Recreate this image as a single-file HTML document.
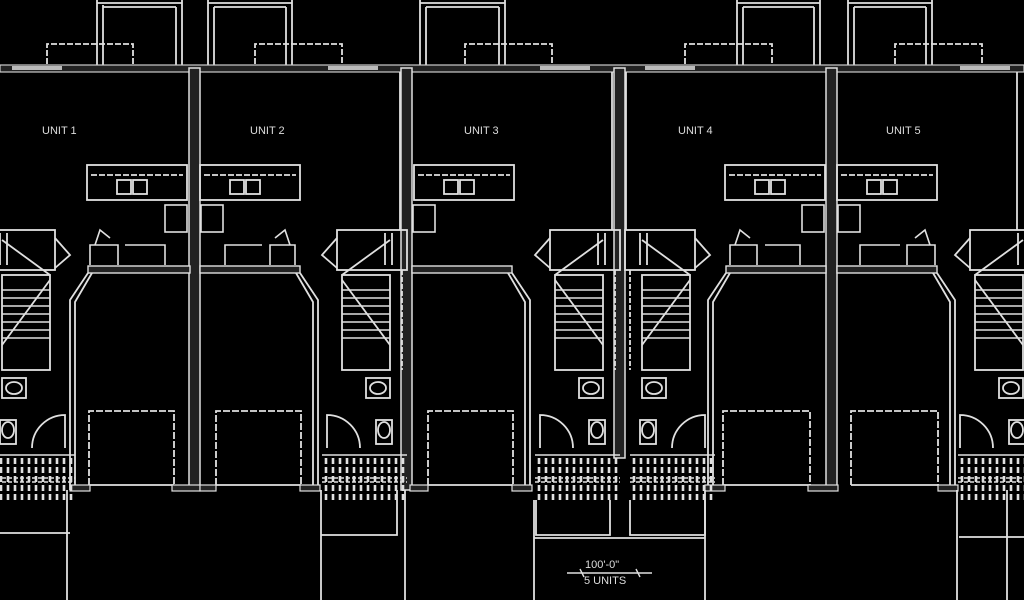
<!DOCTYPE html>
<html><head><meta charset="utf-8"><style>
html,body{margin:0;padding:0;background:#000;width:1024px;height:600px;overflow:hidden}
svg{display:block}
text{font-family:"Liberation Sans",sans-serif;fill:#ddd}
</style></head><body>
<svg width="1024" height="600" viewBox="0 0 1024 600" xmlns="http://www.w3.org/2000/svg">
<defs>
<g id="stair" fill="none" stroke="#e0e0e0" stroke-width="1.8">
  <rect x="5" y="230" width="70" height="40"/>
  <line x1="20" y1="233" x2="20" y2="265"/><line x1="27" y1="233" x2="27" y2="265"/>
  <path d="M75 238 L90 255 L75 268" />
  <line x1="10" y1="270" x2="10" y2="370" stroke-dasharray="5,2"/>
  <rect x="22" y="275" width="48" height="95"/>
  <g stroke-width="1.5">
  <line x1="22" y1="290" x2="70" y2="290"/><line x1="22" y1="298" x2="70" y2="298"/>
  <line x1="22" y1="306" x2="70" y2="306"/><line x1="22" y1="314" x2="70" y2="314"/>
  <line x1="22" y1="322" x2="70" y2="322"/><line x1="22" y1="330" x2="70" y2="330"/>
  <line x1="22" y1="338" x2="70" y2="338"/>
  </g>
  <line x1="22" y1="345" x2="70" y2="280"/>
  <line x1="22" y1="240" x2="70" y2="275"/>
  <rect x="22" y="378" width="24" height="20"/>
  <ellipse cx="34" cy="388" rx="8" ry="6"/>
  <rect x="20" y="420" width="16" height="24"/>
  <ellipse cx="28" cy="430" rx="6" ry="8"/>
  <path d="M85 448 V415 A33 33 0 0 0 52 448"/>
</g>
<g id="deck" fill="none" stroke="#e0e0e0" stroke-width="1.6">
  <line x1="0" y1="455" x2="85" y2="455"/>
  <line x1="0" y1="478" x2="85" y2="478" stroke-dasharray="4,2"/>
  <line x1="0" y1="482" x2="85" y2="482" stroke-dasharray="4,2"/>
  <g stroke-dasharray="6,3" stroke-width="2.6">
  <line x1="4" y1="458" x2="4" y2="500"/><line x1="11" y1="458" x2="11" y2="500"/>
  <line x1="18" y1="458" x2="18" y2="500"/><line x1="25" y1="458" x2="25" y2="500"/>
  <line x1="32" y1="458" x2="32" y2="500"/><line x1="39" y1="458" x2="39" y2="500"/>
  <line x1="46" y1="458" x2="46" y2="500"/><line x1="53" y1="458" x2="53" y2="500"/>
  <line x1="60" y1="458" x2="60" y2="500"/><line x1="67" y1="458" x2="67" y2="500"/>
  <line x1="74" y1="458" x2="74" y2="500"/><line x1="81" y1="458" x2="81" y2="500"/>
  </g>
</g>
<g id="kitchen" fill="none" stroke="#e0e0e0" stroke-width="1.8">
  <rect x="0" y="165" width="100" height="35"/>
  <line x1="4" y1="175" x2="96" y2="175" stroke-dasharray="6,2"/>
  <rect x="30" y="180" width="14" height="14"/><rect x="46" y="180" width="14" height="14"/>
</g>
</defs>

<g fill="none" stroke="#e0e0e0" stroke-width="1.8">
  <path d="M97 0 V66 M103 5 V66 M97 3 H182 M103 7 H176 M182 0 V66 M176 7 V66"/>
  <path d="M208 0 V66 M214 7 V66 M208 3 H292 M214 7 H286 M292 0 V66 M286 7 V66"/>
  <path d="M420 0 V66 M426 7 V66 M420 3 H505 M426 7 H499 M505 0 V66 M499 7 V66"/>
  <path d="M737 0 V66 M743 7 V66 M737 3 H820 M743 7 H814 M820 0 V66 M814 7 V66"/>
  <path d="M848 0 V66 M854 7 V66 M848 3 H932 M854 7 H926 M932 0 V66 M926 7 V66"/>
  <g stroke-dasharray="6,2">
    <path d="M47 64 V44 H133 V64"/><path d="M255 64 V44 H342 V64"/>
    <path d="M465 64 V44 H552 V64"/><path d="M685 64 V44 H772 V64"/>
    <path d="M895 64 V44 H982 V64"/>
  </g>
</g>
<rect x="0" y="65" width="1024" height="7" fill="#222" stroke="#ccc" stroke-width="1.2"/>
<g fill="#bbb"><rect x="12" y="66" width="50" height="4"/><rect x="328" y="66" width="50" height="4"/><rect x="540" y="66" width="50" height="4"/><rect x="645" y="66" width="50" height="4"/><rect x="960" y="66" width="50" height="4"/></g>

<g fill="#222" stroke="#e0e0e0" stroke-width="1.5">
  <rect x="189" y="68" width="11" height="422"/>
  <rect x="401" y="68" width="11" height="422"/>
  <rect x="614" y="68" width="11" height="390"/>
  <rect x="826" y="68" width="11" height="422"/>
</g>
<g fill="none" stroke="#e0e0e0" stroke-width="1.8">
  <line x1="400" y1="72" x2="400" y2="230"/>
  <line x1="612" y1="72" x2="612" y2="230"/>
  <line x1="626" y1="72" x2="626" y2="230"/>
  <line x1="1017" y1="72" x2="1017" y2="230"/>
</g>

<g font-size="11">
<text x="42" y="134">UNIT 1</text><text x="250" y="134">UNIT 2</text>
<text x="464" y="134">UNIT 3</text><text x="678" y="134">UNIT 4</text>
<text x="886" y="134">UNIT 5</text>
</g>

<use href="#kitchen" x="87"/><use href="#kitchen" x="200"/>
<use href="#kitchen" x="414"/><use href="#kitchen" x="725"/><use href="#kitchen" x="837"/>
<g fill="none" stroke="#e0e0e0" stroke-width="1.6">
  <rect x="165" y="205" width="22" height="27"/><rect x="201" y="205" width="22" height="27"/>
  <rect x="413" y="205" width="22" height="27"/><rect x="802" y="205" width="22" height="27"/>
  <rect x="838" y="205" width="22" height="27"/>
  <path d="M90 265 V245 H118 V265 M125 245 H165 V265"/>
  <path d="M295 265 V245 H270 V265 M262 245 H225 V265"/>
  <path d="M730 265 V245 H757 V265 M765 245 H800 V265"/>
  <path d="M935 265 V245 H907 V265 M900 245 H860 V265"/>
  <path d="M95 245 L100 230 L110 238 M290 245 L285 230 L275 238 M735 245 L740 230 L750 238 M930 245 L925 230 L915 238"/>
</g>
<g fill="#222" stroke="#e0e0e0" stroke-width="1.4">
  <rect x="88" y="266" width="102" height="7"/><rect x="200" y="266" width="100" height="7"/>
  <rect x="412" y="266" width="100" height="7"/><rect x="726" y="266" width="100" height="7"/>
  <rect x="837" y="266" width="100" height="7"/>
</g>

<g fill="none" stroke="#e0e0e0" stroke-width="1.8">
  <path d="M88 273 L70 300 V490 M92 273 L75 302 V490"/>
  <path d="M300 273 L318 300 V490 M296 273 L313 302 V490"/>
  <path d="M512 273 L530 300 V490 M508 273 L525 302 V490"/>
  <path d="M726 273 L708 300 V490 M730 273 L713 302 V490"/>
  <path d="M937 273 L955 300 V490 M933 273 L950 302 V490"/>
</g>
<g fill="none" stroke="#e0e0e0" stroke-width="1.8">
  <path d="M89 485 V411 H174 V485" stroke-dasharray="7,2"/><line x1="89" y1="485" x2="174" y2="485"/>
  <path d="M216 485 V411 H301 V485" stroke-dasharray="7,2"/><line x1="216" y1="485" x2="301" y2="485"/>
  <path d="M428 485 V411 H513 V485" stroke-dasharray="7,2"/><line x1="428" y1="485" x2="513" y2="485"/>
  <path d="M723 485 V411 H810 V485" stroke-dasharray="7,2"/><line x1="723" y1="485" x2="810" y2="485"/>
  <path d="M851 485 V411 H938 V485" stroke-dasharray="7,2"/><line x1="851" y1="485" x2="938" y2="485"/>
</g>
<g fill="#222" stroke="#e0e0e0" stroke-width="1.2"><rect x="70" y="485" width="20" height="6"/><rect x="172" y="485" width="28" height="6"/><rect x="200" y="485" width="16" height="6"/><rect x="300" y="485" width="20" height="6"/><rect x="410" y="485" width="18" height="6"/><rect x="512" y="485" width="20" height="6"/><rect x="705" y="485" width="20" height="6"/><rect x="808" y="485" width="30" height="6"/><rect x="938" y="485" width="20" height="6"/></g>

<use href="#stair" x="-20"/>
<use href="#stair" transform="translate(412,0) scale(-1,1)"/>
<use href="#stair" transform="translate(625,0) scale(-1,1)"/>
<use href="#stair" x="620"/>
<use href="#stair" transform="translate(1045,0) scale(-1,1)"/>

<use href="#deck" x="-10"/><use href="#deck" x="322"/><use href="#deck" x="535"/>
<use href="#deck" x="630"/><use href="#deck" x="958"/>

<g fill="none" stroke="#e0e0e0" stroke-width="1.8">
  <line x1="67" y1="490" x2="67" y2="600"/><line x1="321" y1="490" x2="321" y2="600"/>
  <line x1="405" y1="490" x2="405" y2="600"/><line x1="534" y1="500" x2="534" y2="600"/>
  <path d="M536 500 V535 H610 V500"/><path d="M630 500 V535 H705 V500"/>
  <line x1="705" y1="490" x2="705" y2="600"/><line x1="957" y1="490" x2="957" y2="600"/>
  <path d="M321 535 H397 V490"/><path d="M0 533 H70"/>
  <path d="M959 537 H1024"/><line x1="1007" y1="490" x2="1007" y2="600"/>
  <line x1="534" y1="538" x2="705" y2="538"/>
</g>
<g stroke="#e0e0e0" stroke-width="1.4"><line x1="567" y1="573" x2="652" y2="573"/><line x1="580" y1="569" x2="584" y2="577"/><line x1="636" y1="569" x2="640" y2="577"/></g>
<text x="585" y="568" font-size="11">100'-0"</text>
<text x="584" y="584" font-size="11">5 UNITS</text>
</svg>
</body></html>
